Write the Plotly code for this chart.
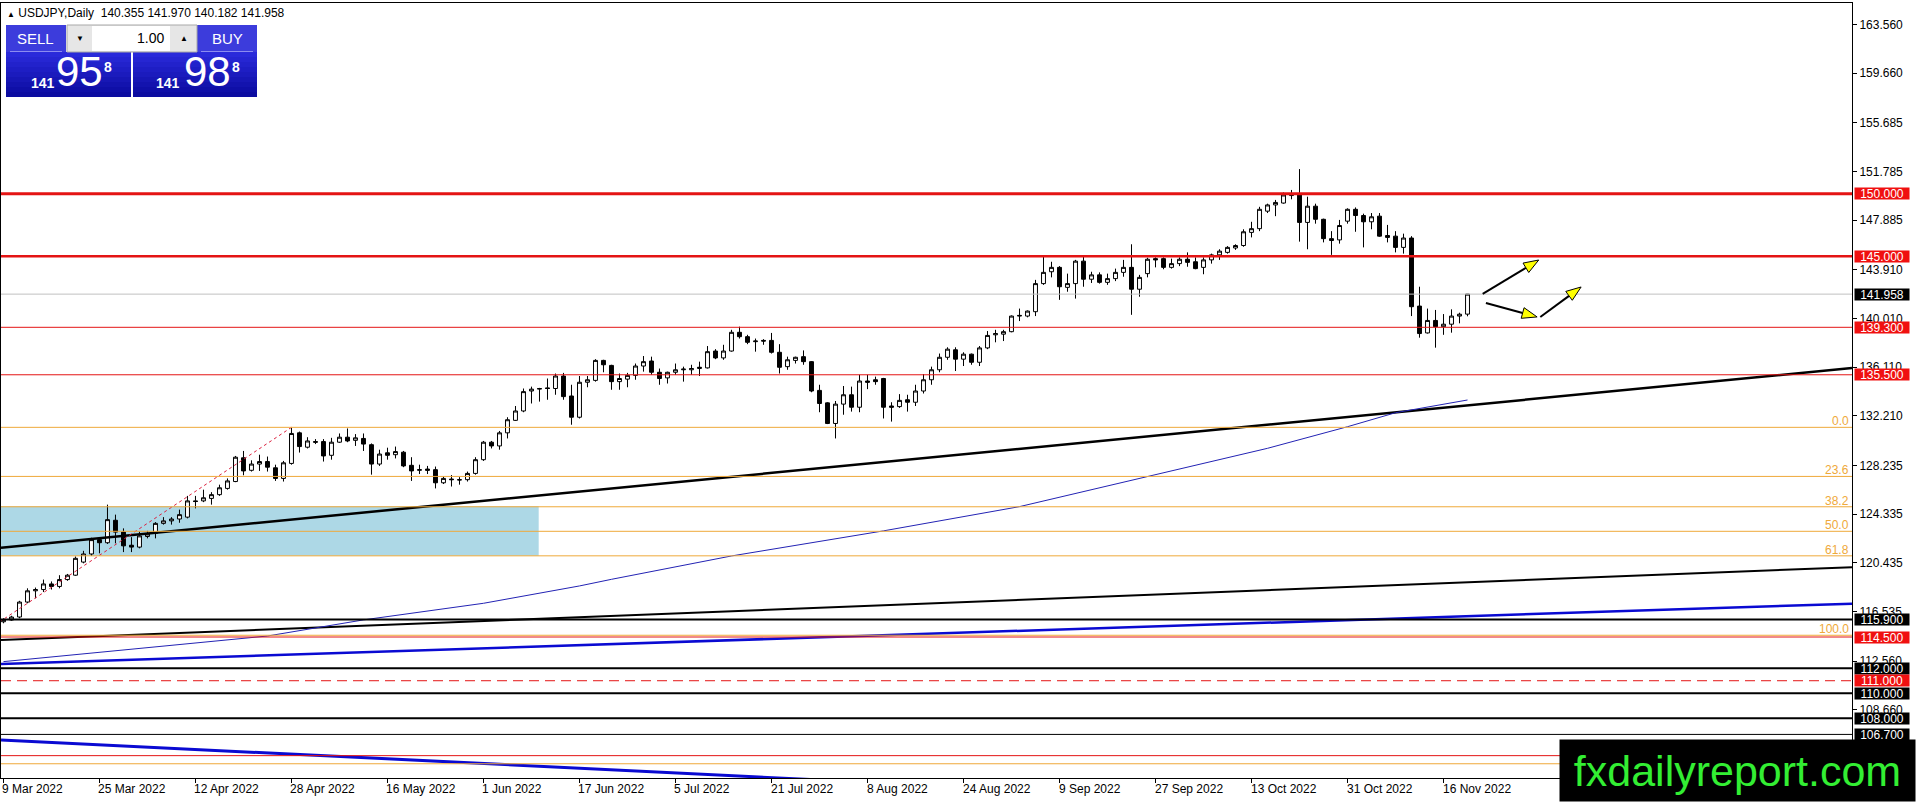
import plotly.graph_objects as go

# figure geometry (pixels)
W, H = 1916, 802
ML, MR, MT, MB = 1, 64, 3, 24
PW, PH = W - ML - MR, H - MT - MB

# ---- USDJPY daily bars, 9 Mar 2022 .. 21 Nov 2022 ----
opens = [
    115.72, 115.86, 116.10, 117.30, 118.20, 118.30, 118.75, 118.55, 119.10, 119.45, 120.50, 121.15,
    122.30, 122.05, 123.85, 122.90, 121.85, 121.70, 122.55, 122.80, 123.60, 123.80, 123.95, 124.10,
    125.40, 125.40, 125.60, 125.90, 126.40, 126.95, 128.85, 127.85, 128.35, 128.55, 128.05, 127.20,
    128.40, 130.85, 129.70, 130.15, 130.15, 129.05, 130.10, 130.50, 130.25, 130.40, 129.90, 128.35,
    129.25, 129.10, 129.30, 128.25, 127.85, 127.95, 127.90, 126.85, 127.15, 127.10, 127.10, 127.60,
    128.70, 130.10, 129.80, 130.85, 131.85, 132.60, 134.20, 134.35, 134.45, 134.40, 135.40, 133.80,
    132.10, 134.90, 135.05, 136.65, 136.25, 134.95, 135.15, 135.45, 136.20, 136.60, 135.70, 135.25,
    135.70, 135.90, 135.90, 136.00, 136.05, 137.40, 136.85, 137.40, 138.90, 138.55, 138.15, 138.25,
    138.25, 137.30, 136.15, 136.65, 136.95, 136.55, 134.25, 133.25, 131.60, 133.15, 133.90, 132.90,
    135.00, 135.10, 135.20, 133.00, 132.95, 133.50, 133.30, 134.20, 135.10, 135.90, 136.90, 137.50,
    136.75, 137.15, 136.50, 137.65, 138.70, 138.75, 138.95, 140.20, 140.20, 140.55, 142.80, 143.75,
    144.10, 142.50, 142.80, 144.60, 143.15, 143.50, 142.90, 143.20, 143.70, 144.10, 142.35, 143.60,
    144.80, 144.80, 144.10, 144.40, 144.75, 144.55, 144.10, 144.70, 145.10, 145.30, 145.65, 145.85,
    146.90, 147.20, 148.60, 149.10, 149.25, 149.85, 150.00, 147.70, 149.00, 147.95, 146.40, 146.30,
    147.80, 148.75, 148.25, 147.75, 148.20, 146.65, 146.60, 145.70, 146.45, 141.00, 138.85, 139.85,
    139.35, 139.55, 140.20, 140.355,
]
highs = [
    116.00, 116.20, 117.40, 118.40, 118.46, 119.10, 118.95, 119.45, 119.55, 120.95, 121.40, 122.45,
    122.50, 125.10, 124.30, 123.20, 122.50, 122.95, 123.00, 123.70, 124.10, 124.10, 124.70, 125.80,
    125.80, 126.30, 126.10, 126.70, 127.20, 129.00, 129.40, 128.65, 129.10, 128.95, 128.30, 128.60,
    131.26, 130.95, 130.50, 130.35, 130.35, 130.45, 130.80, 131.20, 130.75, 130.80, 130.00, 129.50,
    129.66, 129.75, 129.40, 128.90, 128.30, 128.20, 128.15, 127.35, 127.47, 127.30, 127.75, 128.90,
    130.20, 130.20, 131.00, 132.10, 133.00, 134.40, 134.55, 134.45, 135.20, 135.60, 135.65, 134.70,
    135.40, 135.40, 136.75, 136.70, 136.30, 135.60, 135.65, 136.40, 137.00, 136.95, 136.00, 135.75,
    136.40, 136.15, 136.30, 136.55, 137.80, 137.55, 137.90, 139.10, 139.35, 138.70, 138.40, 138.35,
    138.85, 137.95, 136.95, 136.95, 137.45, 136.60, 134.70, 133.30, 133.40, 134.60, 134.55, 135.50,
    135.50, 135.35, 135.25, 133.30, 133.95, 133.90, 134.70, 135.55, 136.15, 137.20, 137.70, 137.70,
    137.30, 137.20, 137.80, 139.00, 139.10, 139.10, 140.25, 140.80, 140.65, 143.10, 144.99, 144.55,
    144.20, 143.60, 144.70, 145.00, 143.75, 143.70, 143.60, 144.00, 144.70, 145.95, 143.50, 144.87,
    144.90, 144.90, 144.80, 144.90, 145.30, 144.90, 144.90, 145.20, 145.55, 145.80, 145.95, 147.15,
    147.75, 148.95, 149.20, 149.50, 150.10, 150.30, 151.97, 149.76, 149.20, 148.00, 147.00, 147.90,
    148.83, 148.90, 148.40, 148.45, 148.45, 147.50, 147.00, 146.80, 146.60, 142.55, 140.80, 140.69,
    140.36, 140.74, 140.47, 141.970,
]
lows = [
    115.60, 115.80, 116.00, 117.20, 117.60, 118.10, 118.30, 118.40, 119.00, 119.40, 120.40, 121.00,
    121.20, 121.95, 122.00, 121.30, 121.30, 121.60, 122.40, 122.40, 123.50, 123.50, 123.65, 124.00,
    124.80, 125.30, 125.10, 125.80, 126.30, 126.90, 127.45, 127.75, 127.80, 127.75, 127.00, 126.95,
    128.30, 129.27, 129.60, 129.95, 128.55, 128.70, 130.05, 130.10, 129.80, 129.40, 127.50, 128.20,
    128.70, 128.80, 128.10, 127.00, 127.55, 127.55, 126.40, 126.75, 126.55, 126.70, 126.95, 127.50,
    128.60, 129.60, 129.50, 130.40, 131.80, 132.50, 133.20, 133.35, 133.50, 133.90, 133.50, 131.50,
    132.00, 134.50, 134.95, 135.70, 134.30, 134.30, 134.50, 135.10, 135.75, 135.50, 134.70, 134.80,
    135.50, 134.95, 135.50, 135.40, 136.00, 136.75, 136.70, 137.35, 138.40, 137.95, 137.35, 137.90,
    137.20, 135.60, 135.90, 136.40, 136.30, 134.10, 132.50, 131.55, 130.40, 132.30, 132.55, 132.50,
    134.35, 134.70, 132.00, 131.75, 132.85, 132.55, 133.00, 134.00, 134.70, 135.70, 136.70, 135.80,
    136.20, 136.30, 136.20, 137.55, 138.10, 138.20, 138.90, 139.80, 140.10, 140.20, 142.70, 143.30,
    141.50, 142.15, 141.60, 142.55, 142.85, 142.80, 142.70, 143.00, 143.35, 140.30, 141.75, 143.30,
    144.10, 143.95, 144.00, 144.20, 144.15, 143.95, 143.55, 144.40, 144.70, 145.20, 145.50, 145.75,
    146.50, 147.00, 148.45, 148.20, 149.20, 149.55, 146.16, 145.55, 147.60, 146.10, 145.10, 146.00,
    147.60, 146.95, 145.70, 147.15, 146.55, 146.10, 145.30, 145.20, 140.20, 138.47, 138.80, 137.67,
    138.70, 138.87, 139.62, 140.182,
]
closes = [
    115.86, 116.10, 117.30, 118.20, 118.30, 118.75, 118.55, 119.10, 119.45, 120.80, 121.15, 122.30,
    122.05, 123.90, 122.90, 121.80, 121.70, 122.60, 122.75, 123.60, 123.80, 123.95, 124.30, 125.40,
    125.35, 125.65, 125.90, 126.45, 127.00, 128.90, 127.80, 128.35, 128.55, 128.10, 127.20, 128.45,
    130.80, 129.75, 130.20, 130.10, 129.00, 130.10, 130.50, 130.20, 130.45, 129.95, 128.35, 129.15,
    129.05, 129.35, 128.20, 127.80, 127.90, 127.85, 126.85, 127.20, 127.10, 127.08, 127.60, 128.70,
    130.10, 129.80, 130.85, 131.90, 132.60, 134.15, 134.35, 134.40, 134.40, 135.40, 133.75, 132.10,
    134.90, 135.10, 136.65, 136.30, 134.95, 135.20, 135.45, 136.20, 136.55, 135.70, 135.20, 135.70,
    135.90, 135.95, 136.00, 136.10, 137.35, 136.85, 137.40, 138.90, 138.55, 138.10, 138.20, 138.20,
    137.30, 136.10, 136.70, 136.90, 136.55, 134.20, 133.20, 131.60, 133.15, 133.90, 132.90, 135.00,
    134.90, 134.95, 132.90, 132.90, 133.45, 133.30, 134.20, 135.10, 135.90, 136.90, 137.55, 136.75,
    137.15, 136.50, 137.65, 138.65, 138.80, 138.95, 140.20, 140.25, 140.60, 142.80, 143.70, 144.10,
    142.55, 142.80, 144.60, 143.15, 143.50, 142.90, 143.20, 143.70, 144.10, 142.35, 143.30, 144.75,
    144.70, 144.10, 144.40, 144.75, 144.50, 144.00, 144.70, 145.10, 145.40, 145.70, 145.85, 146.95,
    147.20, 148.75, 149.10, 149.30, 149.90, 150.00, 147.70, 149.00, 147.95, 146.40, 146.25, 147.45,
    148.75, 148.25, 147.75, 148.15, 146.60, 146.50, 145.70, 146.45, 140.95, 138.80, 139.85, 139.35,
    139.55, 140.20, 140.35, 141.958,
]

# date labels on the time scale (one every 12 bars)
date_labels = ["9 Mar 2022", "25 Mar 2022", "12 Apr 2022", "28 Apr 2022", "16 May 2022",
               "1 Jun 2022", "17 Jun 2022", "5 Jul 2022", "21 Jul 2022", "8 Aug 2022",
               "24 Aug 2022", "9 Sep 2022", "27 Sep 2022", "13 Oct 2022", "31 Oct 2022",
               "16 Nov 2022"]
date_bars = [0, 12, 24, 36, 48, 60, 72, 84, 96, 108, 120, 132, 144, 156, 168, 180]

price_ticks = [163.560, 159.660, 155.685, 151.785, 147.885, 143.910, 140.010, 136.110,
               132.210, 128.235, 124.335, 120.435, 116.535, 112.560, 108.660]

# horizontal levels
red_levels = [150.0, 145.0, 139.3, 135.5, 114.5, 105.0]
red_widths = [3, 2.5, 1, 1, 1, 1]
black_levels = [115.9, 112.0, 110.0, 108.0, 106.7]
black_widths = [2, 2, 2, 2, 1]
dashed_level = 111.0
bid_level = 141.958

# fibonacci retracement (low -> high)
fib_bars = [-3, 36]
fib_prices = [114.64, 131.29]
fib_ratios = [0.0, 23.6, 38.2, 50.0, 61.8, 100.0, 161.8]

# boxes on the price scale
label_levels = [150.0, 145.0, 141.958, 139.3, 135.5, 115.9, 114.5, 112.0, 111.0, 110.0, 108.0, 106.7]
label_is_red = [1, 1, 0, 1, 1, 0, 1, 0, 1, 0, 0, 0]

# trendlines, two anchors each
edge_bars = [-0.31, 231.06]
upper_trend = [121.65, 136.04]
lower_trend = [114.26, 120.09]
blue_trend = [112.34, 117.17]
fall_bars = [-0.31, 120]
fall_trend = [106.26, 102.49]

# moving average
ma_bars = [0, 33, 45, 60, 72, 76, 91, 110, 127, 143, 158, 168, 174, 183]
ma_vals = [112.53, 114.58, 115.87, 117.2, 118.59, 119.12, 120.99, 123.0, 124.94, 127.34,
           129.61, 131.34, 132.46, 133.48]

# shaded zone
zone_bars = [-1, 66.9]
zone_prices = [121.0, 124.97]

# arrows: start -> tip
arrow_x0 = [184.9, 185.3, 192.1]
arrow_y0 = [141.97, 141.25, 140.13]
arrow_x1 = [191.9, 191.7, 197.2]
arrow_y1 = [144.69, 140.13, 142.53]

RED = "rgb(228,20,20)"
ORANGE = "#EFA93A"
FONT = "Liberation Sans"
PX_PER_BAR = 8.0
PX_PER_PRICE = 12.49


def px_x(px):
    return (px - ML) / PW


def px_y(py):
    return (H - MB - py) / PH


fig = go.Figure()

fig.add_trace(go.Candlestick(
    x=list(range(len(closes))), open=opens, high=highs, low=lows, close=closes,
    increasing=dict(fillcolor="white", line=dict(color="black", width=1)),
    decreasing=dict(fillcolor="black", line=dict(color="black", width=1)),
    whiskerwidth=0, hoverinfo="skip",
))

# trendlines over the candles
for ys, col, w in [(upper_trend, "black", 2.5), (lower_trend, "black", 2), (blue_trend, "#0A0AD2", 2.5)]:
    fig.add_trace(go.Scatter(x=edge_bars, y=ys, mode="lines", line=dict(color=col, width=w), hoverinfo="skip"))
fig.add_trace(go.Scatter(x=fall_bars, y=fall_trend, mode="lines", line=dict(color="#0A0AD2", width=3), hoverinfo="skip"))
fig.add_trace(go.Scatter(x=ma_bars, y=ma_vals, mode="lines", line=dict(color="#2323B4", width=1), hoverinfo="skip"))
fig.add_trace(go.Scatter(x=fib_bars, y=fib_prices, mode="lines",
                         line=dict(color="rgb(220,30,60)", width=1, dash="dot"), hoverinfo="skip"))

shapes = []
# light blue zone below everything
shapes.append(dict(type="rect", xref="x", yref="y", x0=zone_bars[0], x1=zone_bars[1],
                   y0=zone_prices[0], y1=zone_prices[1], fillcolor="#ADD8E6", line=dict(width=0), layer="below"))

# fib levels
fib_range = fib_prices[1] - fib_prices[0]
fib_levels = [fib_prices[1] - r / 100 * fib_range for r in fib_ratios]
for lv in fib_levels:
    shapes.append(dict(type="line", xref="paper", yref="y", x0=0, x1=1, y0=lv, y1=lv,
                       line=dict(color=ORANGE, width=1)))

shapes.append(dict(type="line", xref="paper", yref="y", x0=0, x1=1, y0=bid_level, y1=bid_level,
                   line=dict(color="#C0C0C0", width=1)))
for lv, w in zip(red_levels, red_widths):
    shapes.append(dict(type="line", xref="paper", yref="y", x0=0, x1=1, y0=lv, y1=lv,
                       line=dict(color=RED, width=w)))
for lv, w in zip(black_levels, black_widths):
    shapes.append(dict(type="line", xref="paper", yref="y", x0=0, x1=1, y0=lv, y1=lv,
                       line=dict(color="black", width=w)))
shapes.append(dict(type="line", xref="paper", yref="y", x0=0, x1=1, y0=dashed_level, y1=dashed_level,
                   line=dict(color=RED, width=1, dash="10px,6px")))

# arrows (shaft + yellow head), head built in pixel space
for x0, y0, x1, y1 in zip(arrow_x0, arrow_y0, arrow_x1, arrow_y1):
    dx = (x1 - x0) * PX_PER_BAR
    dy = (y1 - y0) * PX_PER_PRICE
    ln = (dx * dx + dy * dy) ** 0.5
    ux, uy = dx / ln, dy / ln
    L, Wd = 15, 5.5
    bx, by = -ux * L, -uy * L
    c1 = (x1 + (bx - uy * Wd) / PX_PER_BAR, y1 + (by + ux * Wd) / PX_PER_PRICE)
    c2 = (x1 + (bx + uy * Wd) / PX_PER_BAR, y1 + (by - ux * Wd) / PX_PER_PRICE)
    mid = (x1 + bx / PX_PER_BAR, y1 + by / PX_PER_PRICE)
    shapes.append(dict(type="line", xref="x", yref="y", x0=x0, y0=y0, x1=mid[0], y1=mid[1],
                       line=dict(color="black", width=2)))
    shapes.append(dict(type="path", xref="x", yref="y",
                       path=f"M {x1},{y1} L {c1[0]},{c1[1]} L {c2[0]},{c2[1]} Z",
                       fillcolor="#FFFF00", line=dict(color="black", width=1)))

# one-click trading panel (top left)
def prect(x0, y0, x1, y1, fill, line_col=None):
    shapes.append(dict(type="rect", xref="paper", yref="paper", x0=px_x(x0), x1=px_x(x1),
                       y0=px_y(y1), y1=px_y(y0), fillcolor=fill,
                       line=dict(color=line_col or fill, width=1 if line_col else 0)))

prect(6, 25, 66, 52, "#3C3CDC")
prect(197, 25, 257, 52, "#3C3CDC")
for k in range(9):
    t = k / 8
    col = f"rgb({int(42 - 30 * t)},{int(42 - 30 * t)},{int(218 - 58 * t)})"
    prect(6, 52 + 5 * k, 131, 57 + 5 * k, col)
    prect(133, 52 + 5 * k, 257, 57 + 5 * k, col)
prect(10, 51, 62, 52, "#8C8CF0")
prect(201, 51, 253, 52, "#8C8CF0")
prect(67, 25, 197, 52, "#E6E6E6", "#A8A8A8")
prect(92, 26, 170, 51, "white")

annotations = []


def ptext(px, py, text, size, color="white", anchor="center", bold=False, family=FONT):
    if bold:
        text = f"<b>{text}</b>"
    annotations.append(dict(xref="paper", yref="paper", x=px_x(px), y=px_y(py), text=text,
                            showarrow=False, xanchor=anchor, yanchor="middle",
                            font=dict(family=family, size=size, color=color)))

ptext(35, 38, "SELL", 15)
ptext(227, 38, "BUY", 15)
ptext(80, 38, "▼", 8, "black")
ptext(184, 38, "▲", 8, "black")
ptext(166, 38, "1.00", 14, "black", "right")
ptext(43, 83, "141", 14, bold=True)
ptext(79, 71, "95", 42)
ptext(108, 67, "8", 14, bold=True)
ptext(168, 83, "141", 14, bold=True)
ptext(207, 71, "98", 42)
ptext(236, 67, "8", 14, bold=True)
annotations.append(dict(xref="paper", yref="paper", x=px_x(5), y=px_y(13), xanchor="left", yanchor="middle",
                        showarrow=False, font=dict(family=FONT, size=12, color="black"),
                        text="<span style='font-size:8px'>▲</span> USDJPY,Daily  140.355 141.970 140.182 141.958"))

# date labels (left aligned on their tick)
for b, t in zip(date_bars, date_labels):
    annotations.append(dict(xref="x", yref="paper", x=b, y=0, yshift=-11, xshift=-3, xanchor="left",
                            yanchor="middle", text=t, showarrow=False,
                            font=dict(family=FONT, size=12, color="black")))

# fib level captions
for lv, r in zip(fib_levels, fib_ratios):
    annotations.append(dict(xref="paper", yref="y", x=1, y=lv, xanchor="right", yanchor="bottom",
                            xshift=-1, yshift=-3, text=f"{r:.1f}", showarrow=False,
                            font=dict(family=FONT, size=12, color=ORANGE)))

# price boxes on the scale
for lv, isred in zip(label_levels, label_is_red):
    annotations.append(dict(xref="paper", yref="y", x=1, xshift=2, y=lv, xanchor="left", yanchor="middle",
                            text=f"{lv:.3f}", showarrow=False, width=54, height=11, borderpad=0,
                            bgcolor="#F01010" if isred else "black",
                            font=dict(family=FONT, size=12, color="white")))

# watermark box
annotations.append(dict(xref="paper", yref="paper", x=px_x(1559), y=px_y(802), xanchor="left", yanchor="bottom",
                        text="fxdailyreport.com", showarrow=False, width=355, height=61, borderpad=0,
                        bgcolor="black", font=dict(family=FONT, size=43, color="#33EE33")))

fig.update_layout(
    width=W, height=H,
    margin=dict(l=ML, r=MR, t=MT, b=MB),
    paper_bgcolor="white", plot_bgcolor="white",
    showlegend=False, hovermode=False,
    shapes=shapes, annotations=annotations,
    xaxis=dict(range=edge_bars, showgrid=False, zeroline=False, showline=True, linecolor="black",
               linewidth=1, mirror=True, ticks="outside", ticklen=4, tickcolor="black",
               tickvals=date_bars, showticklabels=False, rangeslider=dict(visible=False), fixedrange=True),
    yaxis=dict(side="right", range=[103.21, 165.27], showgrid=False, zeroline=False, showline=True,
               linecolor="black", linewidth=1, mirror=True, ticks="outside", ticklen=4, tickcolor="black",
               tickvals=price_ticks, ticktext=[f"{v:.3f}" for v in price_ticks],
               tickfont=dict(family=FONT, size=12, color="black"), fixedrange=True),
)

# drop the default page margin so the chart sits flush in the window
fig.write_html("out.html", config={"displayModeBar": False},
               post_script="document.body.style.margin='0';document.body.style.overflow='hidden';")
